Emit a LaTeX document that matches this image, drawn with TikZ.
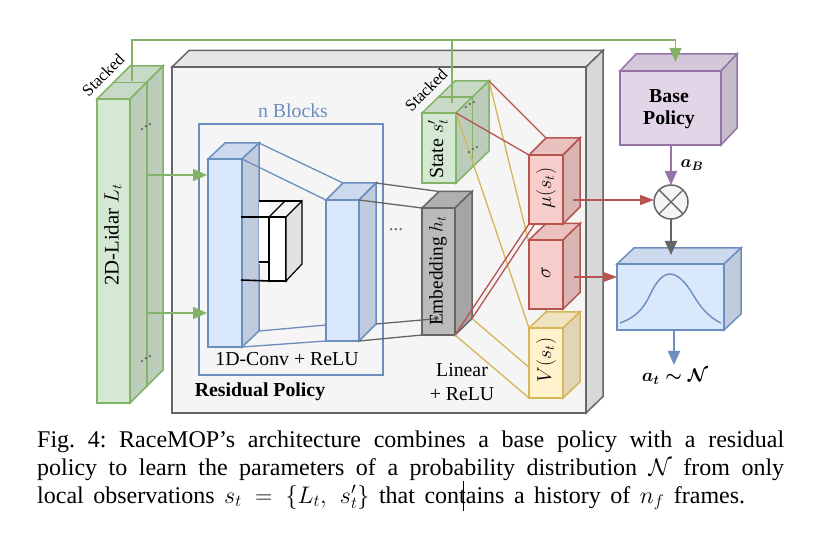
\RequirePackage{fix-cm}
\documentclass[tikz,border=0pt]{standalone}
\usepackage{amsmath}
\usepackage{fontspec}
\setmainfont{Liberation Serif}
\usetikzlibrary{arrows.meta,calc}
\definecolor{gfill}{HTML}{D5E8D4}\definecolor{gline}{HTML}{82B366}
\definecolor{bfill}{HTML}{DAE8FC}\definecolor{bline}{HTML}{6C8EBF}
\definecolor{rfill}{HTML}{F8CECC}\definecolor{rline}{HTML}{B85450}
\definecolor{yfill}{HTML}{FFF2CC}\definecolor{yline}{HTML}{D6B656}
\definecolor{pfill}{HTML}{E1D5E7}\definecolor{pline}{HTML}{9673A6}
\definecolor{kfill}{HTML}{F5F5F5}\definecolor{kline}{HTML}{666666}
\definecolor{mfill}{HTML}{BBBBBB}
% name, left, top, right, bottom, depth x, depth y, fill, line
\newcommand{\cubebox}[9]{%
  \coordinate (#1-btl) at (#2+#6,#3-#7);
  \coordinate (#1-btr) at (#4+#6,#3-#7);
  \coordinate (#1-bbr) at (#4+#6,#5-#7);
  \coordinate (#1-bbl) at (#2+#6,#5-#7);
  \node[draw=#9,fill=#8,line width=1.5pt,inner sep=0pt,outer sep=0pt,anchor=north west,
        minimum width={(#4-#2)*1pt},minimum height={(#5-#3)*1pt}] (#1) at (#2,#3) {};
  \draw[draw=#9,fill=#8!94!black,line width=1.5pt,line join=miter] (#1.north west) -- (#1-btl) -- (#1-btr) -- (#1.north east) -- cycle;
  \draw[draw=#9,fill=#8!88!black,line width=1.5pt,line join=miter] (#1.north east) -- (#1-btr) -- (#1-bbr) -- (#1.south east) -- cycle;
}
\tikzset{
  flow/.style={line width=1.8pt,-{Triangle[length=14pt,width=12pt]}},
  redflow/.style={line width=1.3pt,-{Triangle[length=14pt,width=10pt]}},
  thinlink/.style={line width=1.3pt},
  lab/.style={inner sep=0pt,font=\fontsize{19.8}{22}\selectfont},
  blab/.style={inner sep=0pt,font=\fontsize{19.8}{22}\selectfont\bfseries},
  sidelab/.style={inner sep=0pt,rotate=90,font=\fontsize{20}{22}\selectfont},
  stk/.style={inner sep=0pt,rotate=45,font=\fontsize{16.5}{18}\selectfont},
  dotsl/.style={inner sep=0pt,rotate=30,font=\fontsize{19}{20}\selectfont,text=kline},
  capt/.style={inner sep=0pt,anchor=base west,font=\fontsize{24}{28}\selectfont}
}
\begin{document}
\begin{tikzpicture}[x=1pt,y=-1pt]
\useasboundingbox (0,0) rectangle (819,534);
\fill[white] (0,0) rectangle (819,534);

% main enclosure
\cubebox{main}{172}{67}{586}{413}{17}{16.5}{kfill}{kline}
% n Blocks frame
\node[draw=bline,line width=1.5pt,inner sep=0pt,outer sep=0pt,anchor=north west,minimum width=184pt,minimum height=251pt] (frame) at (199,124) {};

% lidar stack
\cubebox{lidar}{97}{99}{130}{403}{33}{33}{gfill}{gline}
\coordinate (lidarmidA) at (113.5,82.5);
\coordinate (lidarmidB) at (147,82.5);
\coordinate (lidarmidC) at (147,386.5);
\draw[gline,line width=1.5pt] (lidarmidA) -- (lidarmidB) -- (lidarmidC);

% feedthrough lines
\coordinate (topbus) at (132,40);
\coordinate (topend) at (675.5,40);
\coordinate (lidarstart) at (132,81);
\coordinate (statestart) at (452,103);
\coordinate (statebus) at (452,40);
\draw[gline,line width=1.3pt] (lidarstart) -- (topbus) -- (topend);

% links between conv blocks
\cubebox{conva}{208}{159}{242}{347}{17}{16}{bfill}{bline}
\cubebox{convb}{326}{200}{359}{341}{17}{17}{bfill}{bline}
\draw[bline,thinlink] (conva-btr) -- (convb-btl);
\draw[bline,thinlink] (conva.north east) -- (convb.north west);
\draw[bline,thinlink] (conva.south east) -- (convb.south west);
\draw[bline,thinlink] (conva-bbr) -- (326,325);

% residual skip block
\node[fill=white,inner sep=0pt,outer sep=0pt,anchor=north west,minimum width=10pt,minimum height=63pt] (skipbg) at (259,201) {};
\draw[black,line width=1.2pt] (259,201) -- (302,201);
\node[draw=black,fill=white,line width=1.2pt,inner sep=0pt,outer sep=0pt,anchor=north west,minimum width=17pt,minimum height=64pt] (skip) at (269,217) {};
\draw[black,line width=1.2pt,fill=kfill!92!black] (skip.north east) -- (302,201) -- (302,264) -- (skip.south east) -- cycle;
\draw[black,line width=1.2pt] (skip.north west) -- (285,201);
\draw[black,line width=1.6pt] (241,217) -- (skip.north west);
\draw[black,line width=1.6pt] (241,280) -- (skip.south west);
\draw[black,line width=1.4pt] (259,262) -- (269,262);

% state stack
\cubebox{state}{422}{113}{456}{183}{33}{32}{gfill}{gline}
\coordinate (statemidA) at (438.5,97);
\coordinate (statemidB) at (472.5,97);
\coordinate (statemidC) at (472.5,167);
\draw[gline,line width=1.5pt] (statemidA) -- (statemidB) -- (statemidC);
\draw[gline,line width=1.3pt] (statebus) -- (statestart);

% embedding
\cubebox{emb}{422}{208}{455}{335}{17}{16.5}{mfill}{kline}
\draw[kline,thinlink] (convb-btr) -- (emb-btl);
\draw[kline,thinlink] (convb.north east) -- (emb.north west);
\draw[kline,thinlink] (convb-bbr) -- (emb-bbl);
\draw[kline,thinlink] (convb.south east) -- (emb.south west);

% linear links (yellow, then outputs above them)
\coordinate (vbtl) at (546,312);
\coordinate (vbbl) at (546,382);
\draw[yline,thinlink] (state-btr) -- (vbtl);
\draw[yline,thinlink] (state.north east) -- (529,328);
\draw[yline,thinlink] (emb-bbr) -- (vbbl);
\draw[yline,thinlink] (emb.south east) -- (529,398);
\coordinate (mubtl) at (546,138);
\coordinate (mubbl) at (546,207);
\draw[rline,thinlink] (state-btr) -- (mubtl);
\draw[rline,thinlink] (state.north east) -- (529,155);
\draw[rline,thinlink] (emb.south east) -- (529,224);
\draw[rline,thinlink] (emb-bbr) -- (mubbl);

% output heads
\cubebox{vhead}{529}{328}{563}{398}{17}{16}{yfill}{yline}
\cubebox{sighead}{529}{240}{563}{309}{17}{16.5}{rfill}{rline}
\cubebox{muhead}{529}{155}{563}{224}{17}{17}{rfill}{rline}

% right column
\cubebox{base}{620}{71}{721}{145}{16}{17}{pfill}{pline}
\cubebox{dist}{617}{264}{724}{330}{17}{16}{bfill}{bline}
\draw[bline,line width=1.4pt] (620,323) .. controls (640,316) and (646,303) .. (651,293) .. controls (655,284) and (662,274) .. (670,274) .. controls (678,274) and (686,283) .. (692,293) .. controls (698,303) and (706,316) .. (721,323);
\node[draw=kline,fill=kfill,line width=1.5pt,circle,inner sep=0pt,outer sep=0pt,minimum size=34pt] (mult) at (671,202) {};
\draw[kline,line width=1.4pt] (mult.north west) -- (mult.south east);
\draw[kline,line width=1.4pt] (mult.north east) -- (mult.south west);

% arrows
\coordinate (in1) at (147,175);
\coordinate (in1e) at (207,175);
\coordinate (in2) at (147,313);
\coordinate (in2e) at (207,313);
\draw[flow,gline] (in1) -- (in1e);
\draw[flow,gline] (in2) -- (in2e);
\coordinate (baseTip) at (675.5,62);
\draw[flow,gline,line width=1.3pt] (topend) -- (baseTip);
\coordinate (muout) at (573,200);
\coordinate (sigout) at (574,277);
\draw[redflow,rline] (muout) -- (mult.west |- muout);
\draw[redflow,rline] (sigout) -- (dist.west |- sigout);
\draw[flow,pline] (base.south -| mult) -- (mult.north);
\coordinate (distIn) at (671,255);
\draw[flow,kline] (mult.south) -- (distIn);
\coordinate (distout) at (674,330);
\coordinate (distend) at (674,365);
\draw[flow,bline] (distout) -- (distend);

% labels
\node[stk] (stk1) at (103,75) {Stacked};
\node[stk] (stk2) at (426,90) {Stacked};
\node[lab,text=bline] (nb) at (293,111) {n Blocks};
\node[lab] (conv) at (287,359) {1D-Conv + ReLU};
\node[blab] (res) at (260,392) {Residual Policy};
\node[lab] (lin1) at (462,370) {Linear};
\node[lab] (lin2) at (462,394) {+ ReLU};
\node[blab] (b1) at (669,96) {Base};
\node[blab] (b2) at (669,120) {Policy};
\node[sidelab,font=\fontsize{20.7}{22}\selectfont] (ltxt) at (113,235) {2D-Lidar $L_t$};
\node[sidelab] (stxt) at (438,149) {State $s_t'$};
\node[sidelab,font=\fontsize{19.3}{22}\selectfont] (etxt) at (438,271) {Embedding $h_t$};
\node[sidelab] (mtxt) at (546,188) {$\mu(s_t)$};
\node[sidelab] (gtxt) at (546,273) {$\sigma$};
\node[sidelab] (vtxt) at (546,360) {$V(s_t)$};
\node[inner sep=0pt,font=\fontsize{17.5}{20}\selectfont] (ab) at (692,165) {$\boldsymbol{a_B}$};
\node[inner sep=0pt,font=\fontsize{18.5}{20}\selectfont] (at) at (675,377) {$\boldsymbol{a_t\sim\mathcal{N}}$};
\node[dotsl] (d1) at (146,127) {...};
\node[dotsl] (d2) at (146,359) {...};
\node[dotsl] (d3) at (470,105) {...};
\node[dotsl] (d4) at (473,150) {...};
\node[inner sep=0pt,font=\fontsize{19}{20}\selectfont,text=kline] (d5) at (396,230) {...};

% caption
\node[capt] (c1) at (37,447) {\frenchspacing\makebox[747pt][s]{Fig. 4: RaceMOP’s architecture combines a base policy with a residual}};
\node[capt] (c2) at (37,475) {\frenchspacing\makebox[747pt][s]{policy to learn the parameters of a probability distribution $\mathcal{N}$ from only}};
\node[capt] (c3) at (37,503) {\frenchspacing\makebox[708pt][s]{local observations $s_t\mskip10mu{=}\mskip10mu\{L_t,\mskip7mu s_t'\}$ that contains a history of $n_f$ frames.}};
\coordinate (curA) at (463,481);
\coordinate (curB) at (463,511);
\draw[black,line width=0.7pt] (curA) -- (curB);
\end{tikzpicture}
\end{document}
